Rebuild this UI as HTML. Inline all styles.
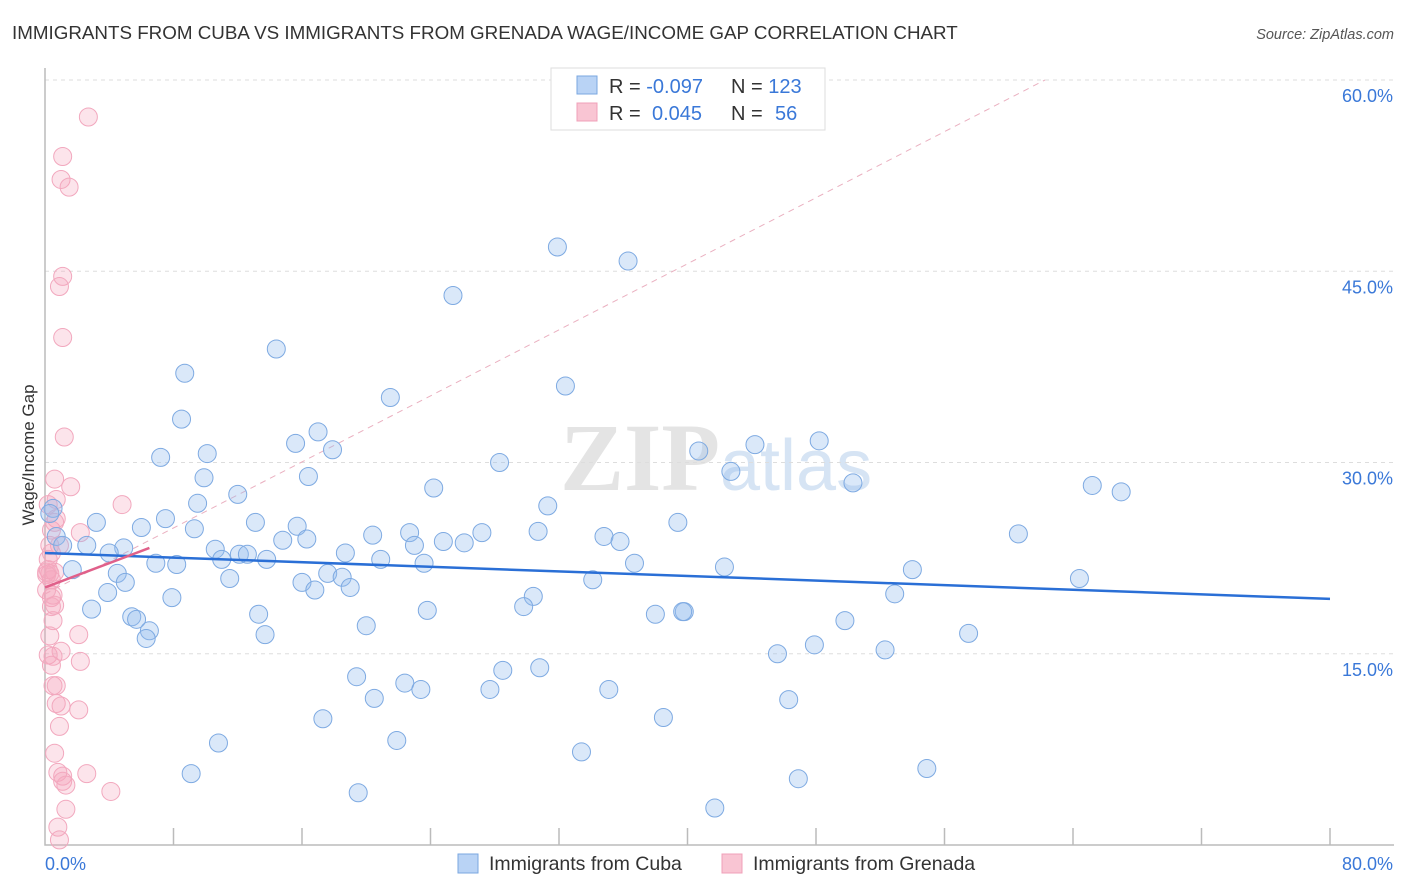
<!DOCTYPE html>
<html><head><meta charset="utf-8"><style>
body{margin:0;background:#fff;font-family:"Liberation Sans",sans-serif;}
#wrap{position:relative;width:1406px;height:892px;overflow:hidden;}
</style></head><body>
<div id="wrap">
<svg id="chart" width="1406" height="892">
<text x="12" y="39" font-size="18.8" fill="#333">IMMIGRANTS FROM CUBA VS IMMIGRANTS FROM GRENADA WAGE/INCOME GAP CORRELATION CHART</text>
<text x="1394" y="39" font-size="14.5" fill="#555" text-anchor="end" font-style="italic">Source: ZipAtlas.com</text>
<text x="720" y="490" font-size="96" fill="#e4e4e4" text-anchor="end" font-family="Liberation Serif" font-weight="bold">ZIP</text>
<text x="720" y="490" font-size="72" fill="#d6e4f4">atlas</text>
<text transform="translate(34,455) rotate(-90)" font-size="17" fill="#333" text-anchor="middle">Wage/Income Gap</text>
<g id="grid"></g><g id="axes"></g><g id="marks"></g>
<g>
<rect x="551" y="68" width="274" height="62" fill="#fff" stroke="#ddd"/>
<rect x="577" y="76" width="20" height="18" fill="#b9d3f5" stroke="#7aa7e0"/>
<rect x="577" y="103" width="20" height="18" fill="#f9c5d3" stroke="#f0a0b8"/>
<text x="609" y="93" font-size="20" fill="#333">R = <tspan fill="#3a78d8">-0.097</tspan><tspan x="731">N = </tspan><tspan fill="#3a78d8">123</tspan></text>
<text x="609" y="120" font-size="20" fill="#333">R = <tspan x="652" fill="#3a78d8">0.045</tspan><tspan x="731">N = </tspan><tspan x="775" fill="#3a78d8">56</tspan></text>
</g>
<g>
<rect x="458" y="854" width="20" height="19" fill="#b9d3f5" stroke="#7aa7e0"/>
<text x="489" y="870" font-size="19.5" fill="#333">Immigrants from Cuba</text>
<rect x="722" y="854" width="20" height="19" fill="#f9c5d3" stroke="#f0a0b8"/>
<text x="753" y="870" font-size="19.5" fill="#333">Immigrants from Grenada</text>
</g>
</svg></div>
<script>
const yTicks=[15,30,45,60];
const yTickLabels=["15.0%","30.0%","45.0%","60.0%"];
const xEndLabels=["0.0%","80.0%"];
const cubaX=[31.9,36.3,25.4,14.4,8.7,32.4,21.5,8.5,17.0,44.2,48.2,15.6,10.1,17.9,7.2,40.7,28.3,9.9,16.4,42.7,50.3,24.2,65.2,67.0,12.0,9.5,31.3,0.5,7.5,3.2,39.4,13.1,6.0,15.7,9.3,22.7,20.4,27.2,30.7,60.6,0.7,14.8,16.3,34.8,35.8,24.8,26.1,1.1,2.6,10.6,23.0,4.9,4.0,18.7,12.1,12.6,13.8,11.0,20.9,23.6,36.7,42.3,6.9,8.2,1.7,4.5,17.6,18.5,54.0,64.4,11.5,5.0,16.0,34.1,16.8,19.0,3.9,7.9,30.4,52.9,29.8,2.9,13.3,23.8,39.8,39.7,38.0,5.4,5.7,49.8,20.0,6.5,13.7,57.5,6.3,47.9,45.6,52.3,28.5,19.4,30.8,22.4,23.4,27.7,35.1,20.5,46.3,38.5,17.3,10.8,21.9,33.4,9.1,46.9,54.9,19.5,41.7,0.3];
const cubaY=[46.9,45.8,43.1,38.9,37.0,36.0,35.1,33.4,32.4,31.4,31.7,31.5,30.7,31.0,30.4,30.9,30.0,28.8,28.9,29.3,28.4,28.0,28.2,27.7,27.5,26.8,26.6,26.4,25.6,25.3,25.3,25.3,24.9,25.0,24.8,24.5,24.3,24.5,24.6,24.4,24.2,23.9,24.0,24.2,23.8,23.8,23.7,23.5,23.5,23.2,23.5,23.3,22.9,22.9,22.8,22.8,22.4,22.4,22.4,22.1,22.1,21.8,22.1,22.0,21.6,21.3,21.3,21.0,21.6,20.9,20.9,20.6,20.6,20.8,20.0,20.2,19.8,19.4,19.5,19.7,18.7,18.5,18.1,18.4,18.3,18.3,18.1,17.9,17.7,17.6,17.2,16.8,16.5,16.6,16.2,15.7,15.0,15.3,13.7,13.2,13.9,12.7,12.2,12.2,12.2,11.5,11.4,10.0,9.9,8.0,8.2,7.3,5.6,5.2,6.0,4.1,2.9,26.0];
const grenX=[2.7,1.1,1.0,1.5,1.1,0.9,1.1,1.2,0.6,0.7,1.6,4.8,0.7,0.6,2.2,0.4,0.3,0.4,0.2,0.3,0.1,0.6,0.1,0.5,0.4,0.4,0.5,0.6,2.1,0.3,1.0,0.2,0.5,2.2,0.5,0.7,0.7,1.0,2.1,0.9,0.6,0.8,1.1,2.6,1.1,1.3,4.1,1.3,0.8,0.9,0.2,0.2,0.4,0.9,0.4,0.1];
const grenY=[57.1,54.0,52.2,51.6,44.6,43.8,39.8,32.0,28.7,27.1,28.1,26.7,25.6,25.3,24.5,24.7,23.5,22.9,21.6,21.3,21.2,21.4,21.4,19.6,19.4,18.7,17.6,18.8,16.5,16.4,15.2,14.9,14.8,14.4,12.5,12.5,11.1,10.9,10.6,9.3,7.2,5.7,5.4,5.6,5.0,4.7,4.2,2.8,1.4,0.4,26.7,22.4,20.8,23.5,14.1,20.0];
const cubaTrend=[22.9,19.3];
const grenTrend=[20.2,23.3];
const grenTrendEnd=6.5;
const NS="http://www.w3.org/2000/svg";
const X0=45,X1=1330,Y0=845;
function sx(v){return X0+v/80*(X1-X0);}
function sy(v){return Y0-v*191.25/15;}
function mk(tag,attrs,parent){const e=document.createElementNS(NS,tag);for(const k in attrs)e.setAttribute(k,attrs[k]);parent.appendChild(e);return e;}
const grid=document.getElementById('grid'),axes=document.getElementById('axes'),marks=document.getElementById('marks');
yTicks.forEach((t,i)=>{
  const l=mk('line',{x1:X0,x2:1394,y1:sy(t),y2:sy(t),stroke:'#ddd','stroke-dasharray':'4,4'},grid);
  
  
  const tx=mk('text',{x:1393,y:sy(t)+22,'font-size':18,fill:'#3a78d8','text-anchor':'end'},axes);
  tx.textContent=yTickLabels[i];
  
  
});
const ax=mk('path',{d:`M${X0},68 V${Y0} H1394`,stroke:'#bbb',fill:'none','stroke-width':1.5},axes);


for(let i=1;i<=10;i++){
  const t=mk('line',{x1:sx(i*8),x2:sx(i*8),y1:828,y2:Y0,stroke:'#bbb','stroke-width':1.5},axes);
  
  
}
const xl=mk('text',{x:45,y:870,'font-size':18,fill:'#3a78d8'},axes);xl.textContent=xEndLabels[0];


const xr=mk('text',{x:1393,y:870,'font-size':18,fill:'#3a78d8','text-anchor':'end'},axes);xr.textContent=xEndLabels[1];


const dg=mk('line',{x1:X0,y1:594,x2:1045,y2:80,stroke:'#eab0c0','stroke-dasharray':'6,5'},marks);


grenX.forEach((x,i)=>{
  const c=mk('circle',{cx:sx(x),cy:sy(grenY[i]),r:9,fill:'rgba(245,165,190,0.3)',stroke:'#f2a8be','stroke-width':1},marks);
  
  
});
cubaX.forEach((x,i)=>{
  const c=mk('circle',{cx:sx(x),cy:sy(cubaY[i]),r:9,fill:'rgba(150,188,238,0.35)',stroke:'#7eaae2','stroke-width':1},marks);
  
  
});
const bt=mk('line',{x1:sx(0),y1:sy(cubaTrend[0]),x2:sx(80),y2:sy(cubaTrend[1]),stroke:'#2a6fd6','stroke-width':2.5},marks);


const pt=mk('line',{x1:sx(0),y1:sy(grenTrend[0]),x2:sx(grenTrendEnd),y2:sy(grenTrend[1]),stroke:'#e0608a','stroke-width':2.5},marks);


</script>
</body></html>
